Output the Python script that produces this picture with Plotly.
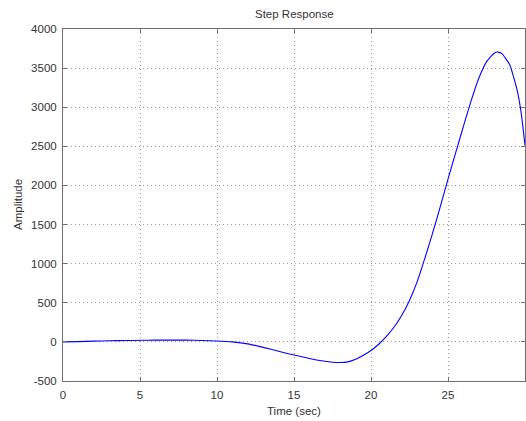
import plotly.graph_objects as go

time_sec = [0, 1, 2, 3, 4, 5, 6, 7, 8, 9, 10, 11, 12, 13, 14, 15, 16, 17, 17.5, 18, 18.5,
            19, 19.5, 20, 20.5, 21, 21.5, 22, 22.5, 23, 23.5, 24, 24.5, 25, 25.5, 26,
            26.5, 27, 27.5, 28, 28.25, 28.5, 29, 29.5, 29.75, 30]
amplitude = [0, 3, 10, 14, 17, 20, 22, 23, 22, 18, 12, 0, -25, -70, -120, -168, -212, -248,
             -260, -264, -255, -222, -170, -110, -30, 70, 190, 340, 530, 770, 1070, 1390,
             1730, 2080, 2420, 2755, 3080, 3370, 3580, 3690, 3705, 3685, 3545, 3210, 2930, 2510]

x_ticks = [0, 5, 10, 15, 20, 25, 30]
y_ticks = [-500, 0, 500, 1000, 1500, 2000, 2500, 3000, 3500, 4000]

fig = go.Figure()
fig.add_trace(go.Scatter(x=time_sec, y=amplitude, mode="lines",
                         line=dict(color="#0000ff", width=1.1, shape="spline", smoothing=0.5),
                         showlegend=False, hoverinfo="skip"))

font = dict(family="Liberation Sans, Arial, sans-serif", size=11.5, color="#333333")
axis_common = dict(showline=True, linecolor="#707070", linewidth=1, mirror="ticks",
                   ticks="inside", ticklen=4, tickcolor="#707070",
                   showgrid=True, gridcolor="#9a9a9a", gridwidth=1, griddash="1px,3px",
                   zeroline=False, tickfont=font)

fig.update_layout(
    width=526, height=421,
    margin=dict(l=63, r=1, t=29, b=40),
    paper_bgcolor="white", plot_bgcolor="white",
    xaxis=dict(range=[0, 30], tickvals=x_ticks, ticktext=[str(v) for v in x_ticks],
               ticklabelstandoff=3, **axis_common),
    yaxis=dict(range=[-500, 4000], tickvals=y_ticks, ticktext=[str(v) for v in y_ticks],
               ticklabelstandoff=3, **axis_common),
    annotations=[
        dict(text="Step Response", xref="paper", yref="paper", x=0.5, y=1, yshift=15,
             showarrow=False, font=font, xanchor="center", yanchor="middle"),
        dict(text="Time (sec)", xref="paper", yref="paper", x=0.5, y=0, yshift=-30,
             showarrow=False, font=font, xanchor="center", yanchor="middle"),
        dict(text="Amplitude", xref="paper", yref="paper", x=0, y=0.5, xshift=-45,
             showarrow=False, font=font, textangle=-90, xanchor="center", yanchor="middle"),
    ],
)

fig.write_html("out.html", config={"displayModeBar": False},
               post_script="document.body.style.margin='0';")
